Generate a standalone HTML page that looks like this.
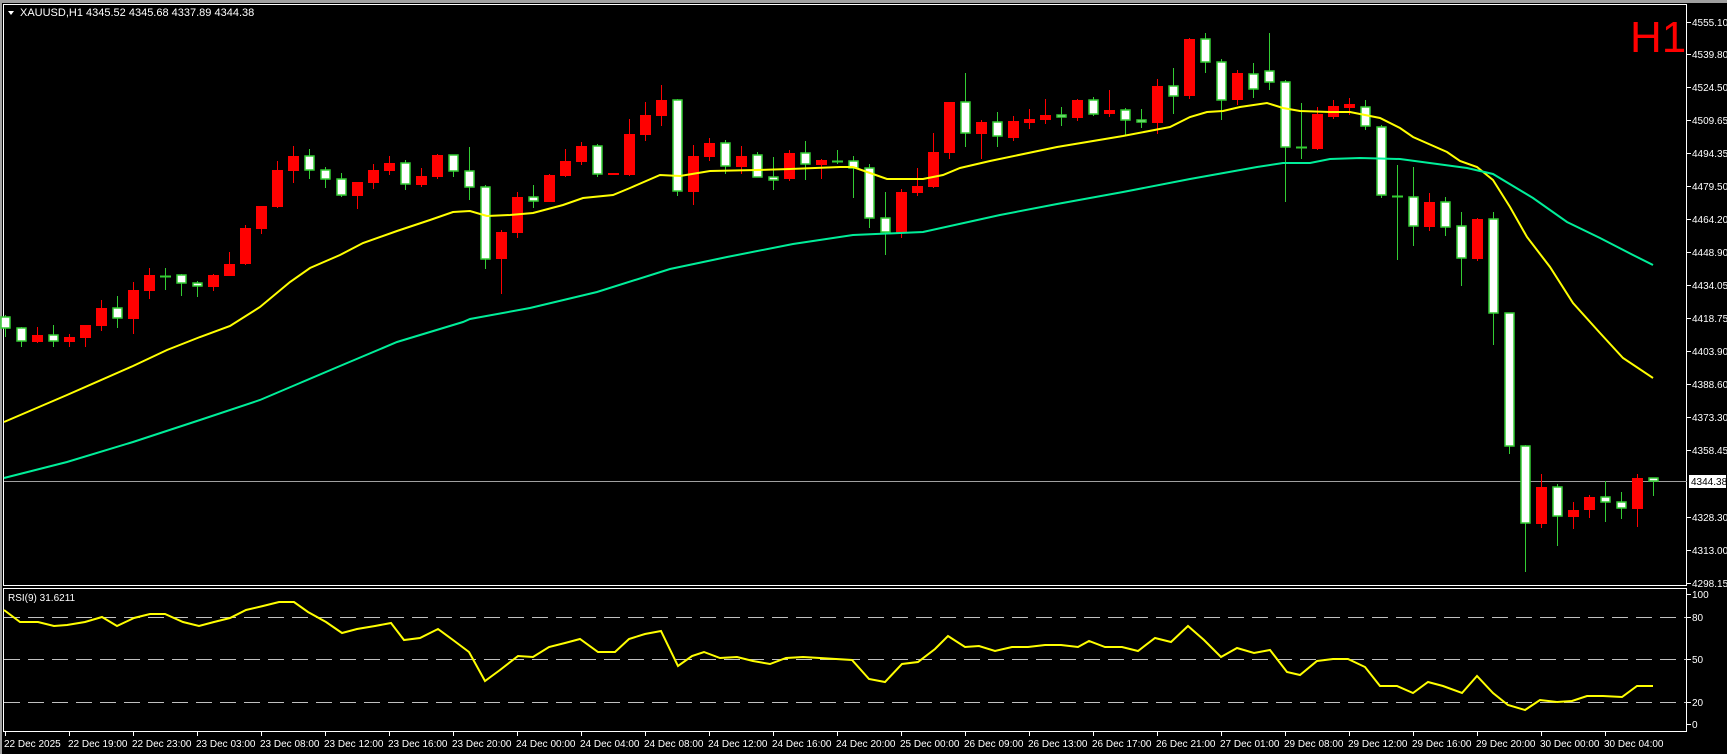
<!DOCTYPE html>
<html><head><meta charset="utf-8"><style>
html,body{margin:0;padding:0;background:#000;width:1727px;height:754px;overflow:hidden}
svg{display:block}
text{font-family:"Liberation Sans",sans-serif;font-size:11px;fill:#fff}
.ax text{font-size:10px}
</style></head><body>
<svg width="1727" height="754" viewBox="0 0 1727 754" xmlns="http://www.w3.org/2000/svg">
<rect x="0" y="0" width="1727" height="754" fill="#000"/>
<rect x="0" y="0" width="1727" height="3" fill="#a0a0a0"/>
<rect x="0" y="0" width="2" height="754" fill="#a0a0a0"/>
<rect x="3.5" y="4.5" width="1683" height="581" fill="none" stroke="#fff" stroke-width="1"/>
<rect x="3.5" y="588.5" width="1683" height="143" fill="none" stroke="#fff" stroke-width="1"/>
<line x1="4" y1="481.5" x2="1687" y2="481.5" stroke="#a0a0a0" stroke-width="1"/>
<polygon points="8,11 14,11 11,15" fill="#fff"/>
<text x="20" y="16">XAUUSD,H1  4345.52 4345.68 4337.89 4344.38</text>
<text x="1630" y="52" style="font-size:44px;fill:#ff0000">H1</text>
<g stroke="#fff" stroke-width="1">
<line x1="1687" y1="22.5" x2="1691" y2="22.5"/><line x1="1687" y1="54.5" x2="1691" y2="54.5"/><line x1="1687" y1="87.5" x2="1691" y2="87.5"/><line x1="1687" y1="120.5" x2="1691" y2="120.5"/><line x1="1687" y1="153.5" x2="1691" y2="153.5"/><line x1="1687" y1="186.5" x2="1691" y2="186.5"/><line x1="1687" y1="219.5" x2="1691" y2="219.5"/><line x1="1687" y1="252.5" x2="1691" y2="252.5"/><line x1="1687" y1="285.5" x2="1691" y2="285.5"/><line x1="1687" y1="318.5" x2="1691" y2="318.5"/><line x1="1687" y1="351.5" x2="1691" y2="351.5"/><line x1="1687" y1="384.5" x2="1691" y2="384.5"/><line x1="1687" y1="417.5" x2="1691" y2="417.5"/><line x1="1687" y1="450.5" x2="1691" y2="450.5"/><line x1="1687" y1="517.5" x2="1691" y2="517.5"/><line x1="1687" y1="550.5" x2="1691" y2="550.5"/><line x1="1687" y1="583.5" x2="1691" y2="583.5"/>
<line x1="1687" y1="594.5" x2="1691" y2="594.5"/><line x1="1687" y1="617.5" x2="1691" y2="617.5"/><line x1="1687" y1="659.5" x2="1691" y2="659.5"/><line x1="1687" y1="702.5" x2="1691" y2="702.5"/><line x1="1687" y1="724.5" x2="1691" y2="724.5"/>
</g>
<g class="ax">
<text x="1692" y="26">4555.10</text><text x="1692" y="58">4539.80</text><text x="1692" y="91">4524.50</text><text x="1692" y="124">4509.65</text><text x="1692" y="157">4494.35</text><text x="1692" y="190">4479.50</text><text x="1692" y="223">4464.20</text><text x="1692" y="256">4448.90</text><text x="1692" y="289">4434.05</text><text x="1692" y="322">4418.75</text><text x="1692" y="355">4403.90</text><text x="1692" y="388">4388.60</text><text x="1692" y="421">4373.30</text><text x="1692" y="454">4358.45</text><text x="1692" y="521">4328.30</text><text x="1692" y="554">4313.00</text><text x="1692" y="587">4298.15</text>
<rect x="1689" y="475" width="37" height="13" fill="#fff"/>
<text x="1691" y="485" style="fill:#000">4344.38</text>
<text x="1692" y="598">100</text><text x="1692" y="621">80</text><text x="1692" y="663">50</text><text x="1692" y="706">20</text><text x="1692" y="728">0</text>
</g>
<g stroke-width="1">
<line x1="5.5" y1="315" x2="5.5" y2="337" stroke="#3c3"/><rect x="1" y="317" width="9" height="11" fill="#fff" stroke="#3c3" stroke-width="1.5"/>
<line x1="21.5" y1="327" x2="21.5" y2="347" stroke="#3c3"/><rect x="17" y="328" width="9" height="13" fill="#fff" stroke="#3c3" stroke-width="1.5"/>
<line x1="37.5" y1="327" x2="37.5" y2="343" stroke="#f00"/><rect x="32" y="335" width="11" height="7" fill="#f00"/>
<line x1="53.5" y1="325" x2="53.5" y2="347" stroke="#3c3"/><rect x="49" y="335" width="9" height="6" fill="#fff" stroke="#3c3" stroke-width="1.5"/>
<line x1="69.5" y1="334" x2="69.5" y2="347" stroke="#f00"/><rect x="64" y="337" width="11" height="5" fill="#f00"/>
<line x1="85.5" y1="325" x2="85.5" y2="347" stroke="#f00"/><rect x="80" y="325" width="11" height="13" fill="#f00"/>
<line x1="101.5" y1="300" x2="101.5" y2="331" stroke="#f00"/><rect x="96" y="308" width="11" height="18" fill="#f00"/>
<line x1="117.5" y1="296" x2="117.5" y2="328" stroke="#3c3"/><rect x="113" y="308" width="9" height="10" fill="#fff" stroke="#3c3" stroke-width="1.5"/>
<line x1="133.5" y1="282" x2="133.5" y2="334" stroke="#f00"/><rect x="128" y="290" width="11" height="29" fill="#f00"/>
<line x1="149.5" y1="268" x2="149.5" y2="299" stroke="#f00"/><rect x="144" y="275" width="11" height="16" fill="#f00"/>
<line x1="165.5" y1="268" x2="165.5" y2="290" stroke="#3c3"/><line x1="160" y1="276.5" x2="171" y2="276.5" stroke="#3c3" stroke-width="2"/>
<line x1="181.5" y1="274" x2="181.5" y2="296" stroke="#3c3"/><rect x="177" y="275" width="9" height="8" fill="#fff" stroke="#3c3" stroke-width="1.5"/>
<line x1="197.5" y1="281" x2="197.5" y2="297" stroke="#3c3"/><rect x="193" y="283" width="9" height="3" fill="#fff" stroke="#3c3" stroke-width="1.5"/>
<line x1="213.5" y1="274" x2="213.5" y2="291" stroke="#f00"/><rect x="208" y="275" width="11" height="12" fill="#f00"/>
<line x1="229.5" y1="252" x2="229.5" y2="276" stroke="#f00"/><rect x="224" y="264" width="11" height="12" fill="#f00"/>
<line x1="245.5" y1="225" x2="245.5" y2="265" stroke="#f00"/><rect x="240" y="228" width="11" height="36" fill="#f00"/>
<line x1="261.5" y1="206" x2="261.5" y2="234" stroke="#f00"/><rect x="256" y="206" width="11" height="23" fill="#f00"/>
<line x1="277.5" y1="161" x2="277.5" y2="208" stroke="#f00"/><rect x="272" y="170" width="11" height="37" fill="#f00"/>
<line x1="293.5" y1="146" x2="293.5" y2="183" stroke="#f00"/><rect x="288" y="156" width="11" height="15" fill="#f00"/>
<line x1="309.5" y1="149" x2="309.5" y2="179" stroke="#3c3"/><rect x="305" y="156" width="9" height="14" fill="#fff" stroke="#3c3" stroke-width="1.5"/>
<line x1="325.5" y1="167" x2="325.5" y2="188" stroke="#3c3"/><rect x="321" y="170" width="9" height="9" fill="#fff" stroke="#3c3" stroke-width="1.5"/>
<line x1="341.5" y1="173" x2="341.5" y2="197" stroke="#3c3"/><rect x="337" y="179" width="9" height="16" fill="#fff" stroke="#3c3" stroke-width="1.5"/>
<line x1="357.5" y1="182" x2="357.5" y2="209" stroke="#f00"/><rect x="352" y="182" width="11" height="14" fill="#f00"/>
<line x1="373.5" y1="164" x2="373.5" y2="189" stroke="#f00"/><rect x="368" y="170" width="11" height="13" fill="#f00"/>
<line x1="389.5" y1="156" x2="389.5" y2="175" stroke="#f00"/><rect x="384" y="163" width="11" height="8" fill="#f00"/>
<line x1="405.5" y1="160" x2="405.5" y2="190" stroke="#3c3"/><rect x="401" y="163" width="9" height="21" fill="#fff" stroke="#3c3" stroke-width="1.5"/>
<line x1="421.5" y1="168" x2="421.5" y2="187" stroke="#f00"/><rect x="416" y="176" width="11" height="9" fill="#f00"/>
<line x1="437.5" y1="154" x2="437.5" y2="179" stroke="#f00"/><rect x="432" y="155" width="11" height="22" fill="#f00"/>
<line x1="453.5" y1="155" x2="453.5" y2="177" stroke="#3c3"/><rect x="449" y="155" width="9" height="16" fill="#fff" stroke="#3c3" stroke-width="1.5"/>
<line x1="469.5" y1="147" x2="469.5" y2="200" stroke="#3c3"/><rect x="465" y="171" width="9" height="16" fill="#fff" stroke="#3c3" stroke-width="1.5"/>
<line x1="485.5" y1="185" x2="485.5" y2="269" stroke="#3c3"/><rect x="481" y="187" width="9" height="72" fill="#fff" stroke="#3c3" stroke-width="1.5"/>
<line x1="501.5" y1="230" x2="501.5" y2="294" stroke="#f00"/><rect x="496" y="232" width="11" height="27" fill="#f00"/>
<line x1="517.5" y1="192" x2="517.5" y2="238" stroke="#f00"/><rect x="512" y="197" width="11" height="36" fill="#f00"/>
<line x1="533.5" y1="185" x2="533.5" y2="208" stroke="#3c3"/><rect x="529" y="197" width="9" height="4" fill="#fff" stroke="#3c3" stroke-width="1.5"/>
<line x1="549.5" y1="174" x2="549.5" y2="202" stroke="#f00"/><rect x="544" y="175" width="11" height="27" fill="#f00"/>
<line x1="565.5" y1="149" x2="565.5" y2="177" stroke="#f00"/><rect x="560" y="161" width="11" height="15" fill="#f00"/>
<line x1="581.5" y1="142" x2="581.5" y2="165" stroke="#f00"/><rect x="576" y="146" width="11" height="16" fill="#f00"/>
<line x1="597.5" y1="144" x2="597.5" y2="177" stroke="#3c3"/><rect x="593" y="146" width="9" height="28" fill="#fff" stroke="#3c3" stroke-width="1.5"/>
<rect x="608" y="173" width="11" height="2" fill="#f00"/>
<line x1="629.5" y1="119" x2="629.5" y2="176" stroke="#f00"/><rect x="624" y="134" width="11" height="41" fill="#f00"/>
<line x1="645.5" y1="102" x2="645.5" y2="141" stroke="#f00"/><rect x="640" y="115" width="11" height="20" fill="#f00"/>
<line x1="661.5" y1="85" x2="661.5" y2="126" stroke="#f00"/><rect x="656" y="100" width="11" height="16" fill="#f00"/>
<line x1="677.5" y1="99" x2="677.5" y2="196" stroke="#3c3"/><rect x="673" y="100" width="9" height="91" fill="#fff" stroke="#3c3" stroke-width="1.5"/>
<line x1="693.5" y1="145" x2="693.5" y2="205" stroke="#f00"/><rect x="688" y="156" width="11" height="36" fill="#f00"/>
<line x1="709.5" y1="138" x2="709.5" y2="161" stroke="#f00"/><rect x="704" y="143" width="11" height="14" fill="#f00"/>
<line x1="725.5" y1="140" x2="725.5" y2="174" stroke="#3c3"/><rect x="721" y="143" width="9" height="23" fill="#fff" stroke="#3c3" stroke-width="1.5"/>
<line x1="741.5" y1="146" x2="741.5" y2="174" stroke="#f00"/><rect x="736" y="156" width="11" height="11" fill="#f00"/>
<line x1="757.5" y1="152" x2="757.5" y2="177" stroke="#3c3"/><rect x="753" y="155" width="9" height="22" fill="#fff" stroke="#3c3" stroke-width="1.5"/>
<line x1="773.5" y1="157" x2="773.5" y2="190" stroke="#3c3"/><rect x="769" y="177" width="9" height="3" fill="#fff" stroke="#3c3" stroke-width="1.5"/>
<line x1="789.5" y1="150" x2="789.5" y2="181" stroke="#f00"/><rect x="784" y="153" width="11" height="26" fill="#f00"/>
<line x1="805.5" y1="141" x2="805.5" y2="180" stroke="#3c3"/><rect x="801" y="153" width="9" height="11" fill="#fff" stroke="#3c3" stroke-width="1.5"/>
<line x1="821.5" y1="159" x2="821.5" y2="179" stroke="#f00"/><rect x="816" y="160" width="11" height="5" fill="#f00"/>
<line x1="837.5" y1="150" x2="837.5" y2="164" stroke="#3c3"/><line x1="832" y1="161.5" x2="843" y2="161.5" stroke="#3c3" stroke-width="2"/>
<line x1="853.5" y1="156" x2="853.5" y2="198" stroke="#3c3"/><rect x="849" y="161" width="9" height="7" fill="#fff" stroke="#3c3" stroke-width="1.5"/>
<line x1="869.5" y1="164" x2="869.5" y2="228" stroke="#3c3"/><rect x="865" y="168" width="9" height="50" fill="#fff" stroke="#3c3" stroke-width="1.5"/>
<line x1="885.5" y1="192" x2="885.5" y2="255" stroke="#3c3"/><rect x="881" y="218" width="9" height="14" fill="#fff" stroke="#3c3" stroke-width="1.5"/>
<line x1="901.5" y1="189" x2="901.5" y2="238" stroke="#f00"/><rect x="896" y="192" width="11" height="41" fill="#f00"/>
<line x1="917.5" y1="168" x2="917.5" y2="196" stroke="#f00"/><rect x="912" y="186" width="11" height="7" fill="#f00"/>
<line x1="933.5" y1="133" x2="933.5" y2="188" stroke="#f00"/><rect x="928" y="152" width="11" height="35" fill="#f00"/>
<line x1="949.5" y1="102" x2="949.5" y2="159" stroke="#f00"/><rect x="944" y="102" width="11" height="51" fill="#f00"/>
<line x1="965.5" y1="73" x2="965.5" y2="147" stroke="#3c3"/><rect x="961" y="102" width="9" height="31" fill="#fff" stroke="#3c3" stroke-width="1.5"/>
<line x1="981.5" y1="120" x2="981.5" y2="159" stroke="#f00"/><rect x="976" y="122" width="11" height="12" fill="#f00"/>
<line x1="997.5" y1="112" x2="997.5" y2="147" stroke="#3c3"/><rect x="993" y="122" width="9" height="14" fill="#fff" stroke="#3c3" stroke-width="1.5"/>
<line x1="1013.5" y1="116" x2="1013.5" y2="141" stroke="#f00"/><rect x="1008" y="121" width="11" height="17" fill="#f00"/>
<line x1="1029.5" y1="109" x2="1029.5" y2="129" stroke="#f00"/><rect x="1024" y="119" width="11" height="4" fill="#f00"/>
<line x1="1045.5" y1="99" x2="1045.5" y2="124" stroke="#f00"/><rect x="1040" y="115" width="11" height="5" fill="#f00"/>
<line x1="1061.5" y1="107" x2="1061.5" y2="126" stroke="#3c3"/><rect x="1057" y="115" width="9" height="2" fill="#fff" stroke="#3c3" stroke-width="1.5"/>
<line x1="1077.5" y1="99" x2="1077.5" y2="121" stroke="#f00"/><rect x="1072" y="100" width="11" height="18" fill="#f00"/>
<line x1="1093.5" y1="97" x2="1093.5" y2="116" stroke="#3c3"/><rect x="1089" y="100" width="9" height="14" fill="#fff" stroke="#3c3" stroke-width="1.5"/>
<line x1="1109.5" y1="90" x2="1109.5" y2="117" stroke="#f00"/><rect x="1104" y="110" width="11" height="4" fill="#f00"/>
<line x1="1125.5" y1="108" x2="1125.5" y2="136" stroke="#3c3"/><rect x="1121" y="110" width="9" height="10" fill="#fff" stroke="#3c3" stroke-width="1.5"/>
<line x1="1141.5" y1="109" x2="1141.5" y2="128" stroke="#3c3"/><rect x="1137" y="120" width="9" height="2" fill="#fff" stroke="#3c3" stroke-width="1.5"/>
<line x1="1157.5" y1="79" x2="1157.5" y2="134" stroke="#f00"/><rect x="1152" y="86" width="11" height="37" fill="#f00"/>
<line x1="1173.5" y1="68" x2="1173.5" y2="114" stroke="#3c3"/><rect x="1169" y="86" width="9" height="10" fill="#fff" stroke="#3c3" stroke-width="1.5"/>
<line x1="1189.5" y1="38" x2="1189.5" y2="99" stroke="#f00"/><rect x="1184" y="39" width="11" height="57" fill="#f00"/>
<line x1="1205.5" y1="33" x2="1205.5" y2="73" stroke="#3c3"/><rect x="1201" y="39" width="9" height="23" fill="#fff" stroke="#3c3" stroke-width="1.5"/>
<line x1="1221.5" y1="59" x2="1221.5" y2="120" stroke="#3c3"/><rect x="1217" y="62" width="9" height="38" fill="#fff" stroke="#3c3" stroke-width="1.5"/>
<line x1="1237.5" y1="70" x2="1237.5" y2="105" stroke="#f00"/><rect x="1232" y="73" width="11" height="27" fill="#f00"/>
<line x1="1253.5" y1="63" x2="1253.5" y2="98" stroke="#3c3"/><rect x="1249" y="74" width="9" height="15" fill="#fff" stroke="#3c3" stroke-width="1.5"/>
<line x1="1269.5" y1="33" x2="1269.5" y2="90" stroke="#3c3"/><rect x="1265" y="71" width="9" height="11" fill="#fff" stroke="#3c3" stroke-width="1.5"/>
<line x1="1285.5" y1="80" x2="1285.5" y2="202" stroke="#3c3"/><rect x="1281" y="82" width="9" height="65" fill="#fff" stroke="#3c3" stroke-width="1.5"/>
<line x1="1301.5" y1="103" x2="1301.5" y2="159" stroke="#3c3"/><line x1="1296" y1="147.5" x2="1307" y2="147.5" stroke="#3c3" stroke-width="2"/>
<line x1="1317.5" y1="107" x2="1317.5" y2="150" stroke="#f00"/><rect x="1312" y="114" width="11" height="35" fill="#f00"/>
<line x1="1333.5" y1="100" x2="1333.5" y2="119" stroke="#f00"/><rect x="1328" y="106" width="11" height="11" fill="#f00"/>
<line x1="1349.5" y1="98" x2="1349.5" y2="115" stroke="#f00"/><rect x="1344" y="104" width="11" height="4" fill="#f00"/>
<line x1="1365.5" y1="100" x2="1365.5" y2="130" stroke="#3c3"/><rect x="1361" y="107" width="9" height="19" fill="#fff" stroke="#3c3" stroke-width="1.5"/>
<line x1="1381.5" y1="125" x2="1381.5" y2="198" stroke="#3c3"/><rect x="1377" y="127" width="9" height="68" fill="#fff" stroke="#3c3" stroke-width="1.5"/>
<line x1="1397.5" y1="165" x2="1397.5" y2="260" stroke="#3c3"/><line x1="1392" y1="196.5" x2="1403" y2="196.5" stroke="#3c3" stroke-width="2"/>
<line x1="1413.5" y1="167" x2="1413.5" y2="246" stroke="#3c3"/><rect x="1409" y="197" width="9" height="29" fill="#fff" stroke="#3c3" stroke-width="1.5"/>
<line x1="1429.5" y1="193" x2="1429.5" y2="231" stroke="#f00"/><rect x="1424" y="202" width="11" height="25" fill="#f00"/>
<line x1="1445.5" y1="197" x2="1445.5" y2="236" stroke="#3c3"/><rect x="1441" y="202" width="9" height="25" fill="#fff" stroke="#3c3" stroke-width="1.5"/>
<line x1="1461.5" y1="212" x2="1461.5" y2="286" stroke="#3c3"/><rect x="1457" y="226" width="9" height="32" fill="#fff" stroke="#3c3" stroke-width="1.5"/>
<line x1="1477.5" y1="218" x2="1477.5" y2="261" stroke="#f00"/><rect x="1472" y="219" width="11" height="40" fill="#f00"/>
<line x1="1493.5" y1="212" x2="1493.5" y2="345" stroke="#3c3"/><rect x="1489" y="219" width="9" height="94" fill="#fff" stroke="#3c3" stroke-width="1.5"/>
<line x1="1509.5" y1="313" x2="1509.5" y2="454" stroke="#3c3"/><rect x="1505" y="313" width="9" height="133" fill="#fff" stroke="#3c3" stroke-width="1.5"/>
<line x1="1525.5" y1="445" x2="1525.5" y2="572" stroke="#3c3"/><rect x="1521" y="446" width="9" height="77" fill="#fff" stroke="#3c3" stroke-width="1.5"/>
<line x1="1541.5" y1="474" x2="1541.5" y2="528" stroke="#f00"/><rect x="1536" y="487" width="11" height="37" fill="#f00"/>
<line x1="1557.5" y1="484" x2="1557.5" y2="546" stroke="#3c3"/><rect x="1553" y="487" width="9" height="29" fill="#fff" stroke="#3c3" stroke-width="1.5"/>
<line x1="1573.5" y1="502" x2="1573.5" y2="529" stroke="#f00"/><rect x="1568" y="510" width="11" height="7" fill="#f00"/>
<line x1="1589.5" y1="495" x2="1589.5" y2="518" stroke="#f00"/><rect x="1584" y="497" width="11" height="13" fill="#f00"/>
<line x1="1605.5" y1="481" x2="1605.5" y2="522" stroke="#3c3"/><rect x="1601" y="497" width="9" height="5" fill="#fff" stroke="#3c3" stroke-width="1.5"/>
<line x1="1621.5" y1="492" x2="1621.5" y2="519" stroke="#3c3"/><rect x="1617" y="502" width="9" height="6" fill="#fff" stroke="#3c3" stroke-width="1.5"/>
<line x1="1637.5" y1="474" x2="1637.5" y2="527" stroke="#f00"/><rect x="1632" y="478" width="11" height="31" fill="#f00"/>
<line x1="1653.5" y1="478" x2="1653.5" y2="496" stroke="#3c3"/><rect x="1649" y="478" width="9" height="3" fill="#fff" stroke="#3c3" stroke-width="1.5"/>
</g>
<polyline fill="none" stroke="#ffff00" stroke-width="2" points="4,422 67,395 133,366 167,350 200,337 230,326 260,307 290,282 310,268 340,255 363,243 397,231 430,220 453,212 470,211 487,216 510,215 533,213 563,205 583,198 613,195 630,188 660,175 680,176 710,171 757,170 790,169 840,167 853,167 870,173 887,179 923,179 943,175 960,168 990,161 1057,147 1123,136 1170,127 1190,117 1207,112 1223,111 1240,107 1267,103 1283,108 1300,111 1330,112 1350,112 1380,118 1400,128 1413,137 1447,152 1460,161 1477,167 1493,180 1510,207 1527,237 1550,267 1573,303 1600,333 1623,358 1653,378"/>
<polyline fill="none" stroke="#00ee99" stroke-width="2" points="4,478 67,462 133,442 200,420 260,400 300,383 340,366 397,342 463,322 470,319 530,308 597,292 670,269 727,257 793,244 853,235 900,233 923,232 1000,215 1057,204 1123,192 1190,179 1257,167 1283,163 1310,163 1330,159 1360,158 1400,159 1467,168 1493,174 1533,198 1567,222 1600,238 1633,255 1653,265"/>
<text x="8" y="601" style="font-size:10px">RSI(9) 31.6211</text>
<g stroke="#c0c0c0" stroke-width="1" stroke-dasharray="16,8">
<line x1="4" y1="617.5" x2="1686" y2="617.5"/><line x1="4" y1="659.5" x2="1686" y2="659.5"/><line x1="4" y1="702.5" x2="1686" y2="702.5"/>
</g>
<polyline fill="none" stroke="#ffff00" stroke-width="2" points="4,610 20,622 38,622 54,626 67,625 85,622 102,617 117,626 134,618 150,614 165,614 183,622 199,626 214,622 230,618 246,610 263,606 279,602 294,602 308,612 326,622 342,633 357,629 375,626 391,623 404,640 420,638 438,629 453,640 469,652 485,681 500,670 518,656 533,657 549,647 565,643 580,639 598,652 615,652 629,639 645,634 661,631 678,666 692,656 704,652 720,658 737,657 753,661 770,664 786,658 803,657 820,658 836,659 852,660 869,679 885,682 902,664 918,662 935,649 948,636 965,647 979,646 995,651 1012,647 1028,647 1045,645 1061,645 1078,647 1089,641 1105,647 1122,647 1138,651 1155,638 1171,642 1188,626 1204,640 1221,657 1237,648 1254,653 1270,650 1287,672 1300,675 1317,661 1333,659 1348,659 1365,667 1380,686 1397,686 1413,693 1428,682 1443,686 1462,693 1477,676 1493,693 1508,705 1525,710 1540,700 1557,702 1572,701 1587,696 1603,696 1622,697 1637,686 1653,686"/>
<g stroke="#fff" stroke-width="1">
<line x1="5.5" y1="731" x2="5.5" y2="736"/><line x1="69.5" y1="731" x2="69.5" y2="736"/><line x1="133.5" y1="731" x2="133.5" y2="736"/><line x1="197.5" y1="731" x2="197.5" y2="736"/><line x1="261.5" y1="731" x2="261.5" y2="736"/><line x1="325.5" y1="731" x2="325.5" y2="736"/><line x1="389.5" y1="731" x2="389.5" y2="736"/><line x1="453.5" y1="731" x2="453.5" y2="736"/><line x1="517.5" y1="731" x2="517.5" y2="736"/><line x1="581.5" y1="731" x2="581.5" y2="736"/><line x1="645.5" y1="731" x2="645.5" y2="736"/><line x1="709.5" y1="731" x2="709.5" y2="736"/><line x1="773.5" y1="731" x2="773.5" y2="736"/><line x1="837.5" y1="731" x2="837.5" y2="736"/><line x1="901.5" y1="731" x2="901.5" y2="736"/><line x1="965.5" y1="731" x2="965.5" y2="736"/><line x1="1029.5" y1="731" x2="1029.5" y2="736"/><line x1="1093.5" y1="731" x2="1093.5" y2="736"/><line x1="1157.5" y1="731" x2="1157.5" y2="736"/><line x1="1221.5" y1="731" x2="1221.5" y2="736"/><line x1="1285.5" y1="731" x2="1285.5" y2="736"/><line x1="1349.5" y1="731" x2="1349.5" y2="736"/><line x1="1413.5" y1="731" x2="1413.5" y2="736"/><line x1="1477.5" y1="731" x2="1477.5" y2="736"/><line x1="1541.5" y1="731" x2="1541.5" y2="736"/><line x1="1605.5" y1="731" x2="1605.5" y2="736"/>
</g>
<g class="ax">
<text x="4" y="747">22 Dec 2025</text><text x="68" y="747">22 Dec 19:00</text><text x="132" y="747">22 Dec 23:00</text><text x="196" y="747">23 Dec 03:00</text><text x="260" y="747">23 Dec 08:00</text><text x="324" y="747">23 Dec 12:00</text><text x="388" y="747">23 Dec 16:00</text><text x="452" y="747">23 Dec 20:00</text><text x="516" y="747">24 Dec 00:00</text><text x="580" y="747">24 Dec 04:00</text><text x="644" y="747">24 Dec 08:00</text><text x="708" y="747">24 Dec 12:00</text><text x="772" y="747">24 Dec 16:00</text><text x="836" y="747">24 Dec 20:00</text><text x="900" y="747">25 Dec 00:00</text><text x="964" y="747">26 Dec 09:00</text><text x="1028" y="747">26 Dec 13:00</text><text x="1092" y="747">26 Dec 17:00</text><text x="1156" y="747">26 Dec 21:00</text><text x="1220" y="747">27 Dec 01:00</text><text x="1284" y="747">29 Dec 08:00</text><text x="1348" y="747">29 Dec 12:00</text><text x="1412" y="747">29 Dec 16:00</text><text x="1476" y="747">29 Dec 20:00</text><text x="1540" y="747">30 Dec 00:00</text><text x="1604" y="747">30 Dec 04:00</text>
</g>
</svg>
</body></html>
